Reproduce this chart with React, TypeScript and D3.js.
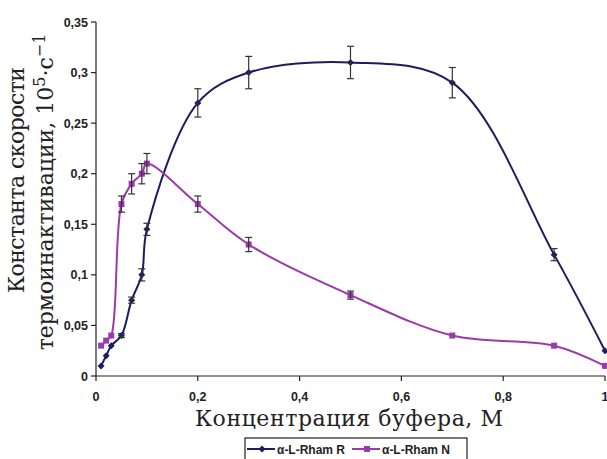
import React from 'react';
import * as d3 from 'd3';

// buffer concentration, M
const concentration = [0.01, 0.02, 0.03, 0.05, 0.07, 0.09, 0.1, 0.2, 0.3, 0.5, 0.7, 0.9, 1];
// α-L-Rham R
const rhamR = [0.01, 0.02, 0.03, 0.04, 0.075, 0.1, 0.145, 0.27, 0.3, 0.31, 0.29, 0.12, 0.025];
const rhamRErr = [0, 0, 0, 0.002, 0.003, 0.006, 0.006, 0.014, 0.016, 0.016, 0.015, 0.006, 0];
// α-L-Rham N
const rhamN = [0.03, 0.035, 0.04, 0.17, 0.19, 0.2, 0.21, 0.17, 0.13, 0.08, 0.04, 0.03, 0.01];
const rhamNErr = [0, 0, 0, 0.008, 0.01, 0.01, 0.01, 0.008, 0.007, 0.004, 0, 0, 0];

const xTicks = [0, 0.2, 0.4, 0.6, 0.8, 1];
const yTicks = [0, 0.05, 0.1, 0.15, 0.2, 0.25, 0.3, 0.35];

const colorR = '#1d1d5e';
const colorN = '#9c3aac';

const fmt = (v: number) => String(+v.toFixed(2)).replace('.', ',');

const App = () => {
  const width = 607;
  const height = 459;
  const x = d3.scaleLinear().domain([0, 1]).range([96, 605]);
  const y = d3.scaleLinear().domain([0, 0.35]).range([376, 22]);

  const line = d3
    .line<number>()
    .x((_, i) => x(concentration[i]))
    .y(d => y(d))
    .curve(d3.curveCatmullRom.alpha(0.5));

  const series = [
    { name: 'α-L-Rham R', values: rhamR, err: rhamRErr, color: colorR, shape: 'diamond' },
    { name: 'α-L-Rham N', values: rhamN, err: rhamNErr, color: colorN, shape: 'square' },
  ];

  const marker = (shape: string, cx: number, cy: number, color: string, key: any) =>
    shape === 'diamond' ? (
      <path key={key} d={`M${cx},${cy - 3.5}L${cx + 3.5},${cy}L${cx},${cy + 3.5}L${cx - 3.5},${cy}Z`} fill={color} />
    ) : (
      <rect key={key} x={cx - 3} y={cy - 3} width={6} height={6} fill={color} />
    );

  const tickFont = { fontFamily: 'Liberation Sans, Arial, sans-serif', fontSize: 12.5, fontWeight: 700, fill: '#222' };
  const titleFont = { fontFamily: 'DejaVu Serif, serif', fontSize: 22, fill: '#222' };

  return (
    <svg width={width} height={height} style={{ position: 'absolute', left: 0, top: 0, background: '#fff' }}>
      {/* axes */}
      <line x1={x(0)} x2={x(0)} y1={y(0.35)} y2={y(0)} stroke="#222" strokeWidth={1.2} />
      <line x1={x(0)} x2={x(1)} y1={y(0)} y2={y(0)} stroke="#222" strokeWidth={1.2} />
      {yTicks.map(t => (
        <g key={'y' + t}>
          <line x1={x(0) - 5} x2={x(0)} y1={y(t)} y2={y(t)} stroke="#222" strokeWidth={1.2} />
          <text x={88} y={y(t)} dy="0.36em" textAnchor="end" {...tickFont}>{fmt(t)}</text>
        </g>
      ))}
      {xTicks.map(t => (
        <g key={'x' + t}>
          <line x1={x(t)} x2={x(t)} y1={y(0)} y2={y(0) + 5} stroke="#222" strokeWidth={1.2} />
          <text x={x(t)} y={401} textAnchor="middle" {...tickFont}>{fmt(t)}</text>
        </g>
      ))}

      {/* lines */}
      {series.map(s => (
        <path key={s.name} d={line(s.values) || ''} fill="none" stroke={s.color} strokeWidth={2} />
      ))}
      {/* markers */}
      {series.map(s => (
        <g key={s.name + 'm'}>{s.values.map((v, i) => marker(s.shape, x(concentration[i]), y(v), s.color, i))}</g>
      ))}
      {/* error bars */}
      {series.map(s => (
        <g key={s.name + 'e'} stroke="#333" strokeWidth={1.2}>
          {s.values.map((v, i) =>
            s.err[i] > 0 ? (
              <g key={i}>
                <line x1={x(concentration[i])} x2={x(concentration[i])} y1={y(v - s.err[i])} y2={y(v + s.err[i])} />
                <line x1={x(concentration[i]) - 3.5} x2={x(concentration[i]) + 3.5} y1={y(v - s.err[i])} y2={y(v - s.err[i])} />
                <line x1={x(concentration[i]) - 3.5} x2={x(concentration[i]) + 3.5} y1={y(v + s.err[i])} y2={y(v + s.err[i])} />
              </g>
            ) : null
          )}
        </g>
      ))}

      {/* axis titles */}
      <text x={349} y={426} textAnchor="middle" {...titleFont} textLength={308} lengthAdjust="spacing">Концентрация буфера, М</text>
      <text transform="translate(24,180) rotate(-90)" textAnchor="middle" {...titleFont} textLength={226} lengthAdjust="spacing">Константа скорости</text>
      <text transform="translate(53,192) rotate(-90)" textAnchor="middle" {...titleFont}>
        термоинактивации, 10<tspan dy={-8} fontSize={16}>5</tspan>
        <tspan dy={8}>·с</tspan>
        <tspan dy={-8} fontSize={16}>−1</tspan>
      </text>

      {/* legend */}
      <rect x={245} y={438} width={222} height={26} fill="#fff" stroke="#222" strokeWidth={1.2} />
      {series.map((s, i) => {
        const lx = 247 + i * 105;
        return (
          <g key={s.name + 'l'}>
            <line x1={lx} x2={lx + 28} y1={449} y2={449} stroke={s.color} strokeWidth={2} />
            {marker(s.shape, lx + 15, 449, s.color, 'lm')}
            <text x={lx + 30} y={453.5} {...tickFont} fontSize={12}>{s.name}</text>
          </g>
        );
      })}
    </svg>
  );
};

export default App;
